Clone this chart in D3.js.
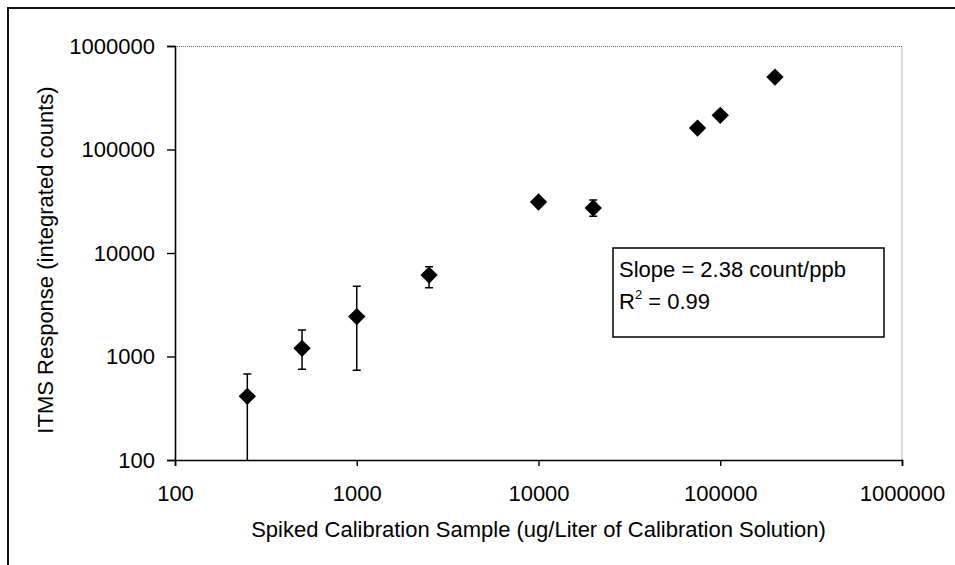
<!DOCTYPE html>
<html>
<head>
<meta charset="utf-8">
<script src="https://cdn.jsdelivr.net/npm/d3@7"></script>
<style>
  body { margin: 0; background: #fff; }
  svg { display: block; font-family: "Liberation Sans", Arial, sans-serif; }
</style>
</head>
<body>
<div id="chart"></div>
<script>
// spiked concentration (ug/L) and ITMS response (counts)
const concentrations = [250, 500, 1000, 2500, 10000, 20000, 75000, 100000, 200000]
const responses      = [412, 1200, 2430, 6120, 31100, 27200, 161000, 214000, 501000]
// error bar ends, null = no visible bar
const responseLow    = [0, 752, 736, 4620, null, 22700, null, null, null]
const responseHigh   = [678, 1800, 4770, 7380, null, 32500, null, null, null]
const xTicks = [100, 1000, 10000, 100000, 1000000]
const yTicks = [100, 1000, 10000, 100000, 1000000]
const fitLines = ["Slope = 2.38 count/ppb", "R2 = 0.99"]

const width = 955
const height = 565
const margin = {top: 46, right: 53, bottom: 105, left: 175}
const innerW = width - margin.left - margin.right
const innerH = height - margin.top - margin.bottom

const svg = d3.select("#chart").append("svg")
    .attr("width", width)
    .attr("height", height)

// outer chart frame (runs off the right/bottom edge like the scan)
svg.append("rect")
    .attr("x", 8).attr("y", 8)
    .attr("width", width + 10).attr("height", height + 10)
    .attr("fill", "none")
    .attr("stroke", "#111")
    .attr("stroke-width", 2)

const x = d3.scaleLog().domain([100, 1000000]).range([0, innerW])
const y = d3.scaleLog().domain([100, 1000000]).range([innerH, 0])

const g = svg.append("g").attr("transform", `translate(${margin.left},${margin.top})`)

// plot area border, top and right dotted
g.append("path")
    .attr("d", `M0,0.5H${innerW}V${innerH}`)
    .attr("fill", "none")
    .attr("stroke", "#666")
    .attr("stroke-width", 1)
    .attr("stroke-dasharray", "1,1")

// axes
const xAxis = g.append("g")
    .attr("transform", `translate(0,${innerH})`)
    .call(d3.axisBottom(x).tickValues(xTicks).tickFormat(d3.format("d")).tickSize(6).tickPadding(19))
const yAxis = g.append("g")
    .call(d3.axisLeft(y).tickValues(yTicks).tickFormat(d3.format("d")).tickSize(8).tickPadding(12))

for (const ax of [xAxis, yAxis]) {
    ax.attr("font-family", null)
    ax.select(".domain").attr("stroke", "#000").attr("stroke-width", 1.6)
    ax.selectAll(".tick line").attr("stroke", "#000").attr("stroke-width", 1.4)
    ax.selectAll(".tick text").attr("fill", "#000").style("font-size", "22px")
}

// axis titles
svg.append("text")
    .attr("x", margin.left + innerW / 2)
    .attr("y", 537)
    .attr("text-anchor", "middle")
    .style("font-size", "22px")
    .text("Spiked Calibration Sample (ug/Liter of Calibration Solution)")

svg.append("text")
    .attr("transform", `translate(53,${margin.top + innerH / 2 + 7}) rotate(-90)`)
    .attr("text-anchor", "middle")
    .style("font-size", "22px")
    .text("ITMS Response (integrated counts)")

// error bars
const idx = d3.range(concentrations.length).filter(i => responseHigh[i] !== null)
const clampY = v => y(Math.max(v, 100))
const capW = 4

const eb = g.append("g").attr("stroke", "#000").attr("stroke-width", 1.5).attr("fill", "none")
eb.selectAll("path")
    .data(idx)
    .join("path")
    .attr("d", i => {
        const cx = x(concentrations[i])
        const yh = clampY(responseHigh[i])
        const yl = clampY(responseLow[i])
        let p = `M${cx},${yh}V${yl}M${cx - capW},${yh}H${cx + capW}`
        if (responseLow[i] >= 100) p += `M${cx - capW},${yl}H${cx + capW}`
        return p
    })

// diamond markers
const diamond = d3.symbol().type(d3.symbolSquare).size(150)
g.append("g")
    .selectAll("path")
    .data(d3.range(concentrations.length))
    .join("path")
    .attr("transform", i => `translate(${x(concentrations[i])},${y(responses[i])}) rotate(45)`)
    .attr("d", diamond)
    .attr("fill", "#000")

// fit annotation box
const box = svg.append("g").attr("transform", "translate(613,248)")
box.append("rect")
    .attr("width", 271).attr("height", 89)
    .attr("fill", "#fff")
    .attr("stroke", "#000")
    .attr("stroke-width", 1.5)
box.append("text")
    .attr("x", 6).attr("y", 29)
    .style("font-size", "22px")
    .text(fitLines[0])
const r2 = box.append("text")
    .attr("x", 6).attr("y", 61)
    .style("font-size", "22px")
r2.append("tspan").text("R")
r2.append("tspan").attr("dy", -10).style("font-size", "13px").text("2")
r2.append("tspan").attr("dy", 10).text(" = 0.99")
</script>
</body>
</html>
